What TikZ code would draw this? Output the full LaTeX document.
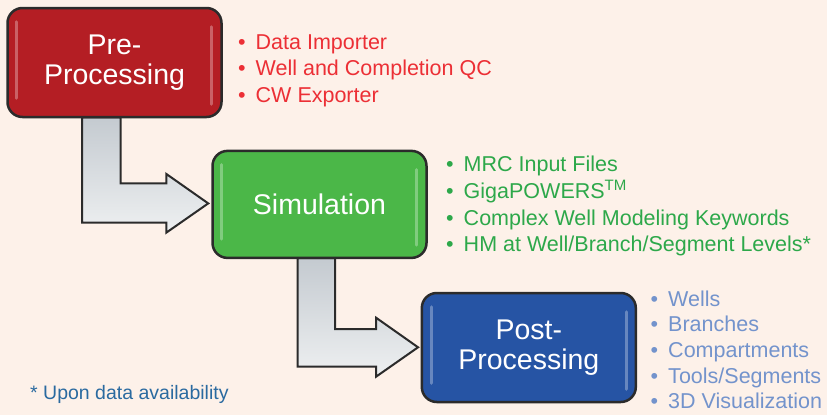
\documentclass[tikz,border=0pt]{standalone}
\usepackage{fontspec}
\setmainfont{Liberation Sans}
\usetikzlibrary{calc}
\pgfdeclarelayer{canvas}
\pgfdeclarelayer{behind}
\pgfsetlayers{canvas,behind,main}
\definecolor{bg}{HTML}{FDF1E9}
\definecolor{prered}{HTML}{B41E24}
\definecolor{simgreen}{HTML}{4BB748}
\definecolor{postblue}{HTML}{2654A4}
\definecolor{edge}{HTML}{2B2B2B}
\definecolor{txtred}{HTML}{EC2F35}
\definecolor{txtgreen}{HTML}{2DA84A}
\definecolor{txtblue}{HTML}{7393CC}
\definecolor{notecol}{HTML}{2A6AA0}
\definecolor{arrowdark}{HTML}{C4CAD0}
\definecolor{arrowlight}{HTML}{EEF0F1}
\tikzset{
  stagebox/.style={draw=edge, line width=2.5pt, rounded corners=15pt,
    minimum width=214pt, text=white, align=center,
    font=\fontsize{28.5}{30.5}\selectfont, inner sep=0pt},
  blockarrow/.style={draw=edge, line width=2pt, line join=miter,
    top color=arrowdark, bottom color=arrowlight},
  gloss/.style={line width=3pt, line cap=round, draw=white, opacity=0.3},
  listitem/.style={anchor=base west, inner sep=0pt,
    font=\fontsize{21.5}{24}\selectfont},
}
\newcommand{\bul}{\textbullet\hspace{10pt}}
\begin{document}
\begin{tikzpicture}[x=1pt, y=-1pt]
  \begin{pgfonlayer}{canvas}
    \fill[bg] (0,0) rectangle (827,415);
  \end{pgfonlayer}
  \useasboundingbox (0,0) rectangle (827,415);

  % stage boxes
  \node[stagebox, fill=prered, minimum height=109pt] (pre) at (114.5,62.5) {Pre-\\Processing};
  \node[stagebox, fill=simgreen, minimum height=107pt] (sim) at (319.5,204.4) {Simulation};
  \node[stagebox, fill=postblue, minimum height=109pt] (post) at (528.8,347.5) {Post-\\Processing};

  % block arrows (behind the boxes)
  \begin{pgfonlayer}{behind}
  \draw[blockarrow] let \p1=(pre.south), \p2=(sim.west) in
    (\x1-32.5,\y1+1) -- (\x1+6,\y1+1) -- (\x1+6,\y2+21) -- (\x2-45,\y2+21)
    -- (\x2-45,\y2+30.5) -- (\x2-3,\y2+1) -- (\x2-45,\y2-28.3)
    -- (\x2-45,\y2-18.3) -- (\x1-32.5,\y2-18.3) -- cycle;
  \draw[blockarrow] let \p1=(sim.south), \p2=(post.west) in
    (\x1-22,\y1+1) -- (\x1+15.5,\y1+1) -- (\x1+15.5,\y2+18.5) -- (\x2-44.5,\y2+18.5)
    -- (\x2-44.5,\y2+29.8) -- (\x2-2.5,\y2+0.2) -- (\x2-44.5,\y2-29.2)
    -- (\x2-44.5,\y2-19.2) -- (\x1-22,\y2-19.2) -- cycle;
  \end{pgfonlayer}

  % gloss strips
  \foreach \b in {pre,sim,post}{
    \draw[gloss] ($(\b.north west)+(10.5,15)$) -- ($(\b.south west)+(10.5,-20)$);
    \draw[gloss] ($(\b.north east)+(-11,20)$) -- ($(\b.south east)+(-11,-14)$);
  }

  % lists
  \begin{scope}[text=txtred]
    \node[listitem] (r1) at (238,49) {\bul Data Importer};
    \node[listitem] (r2) at (238,75.5) {\bul Well and Completion QC};
    \node[listitem] (r3) at (238,102) {\bul CW Exporter};
  \end{scope}
  \begin{scope}[text=txtgreen]
    \node[listitem] (g1) at (446,171.7) {\bul MRC Input Files};
    \node[listitem] (g2) at (446,198.3) {\bul GigaPOWERS\textsuperscript{TM}};
    \node[listitem] (g3) at (446,225) {\bul Complex Well Modeling Keywords};
    \node[listitem] (g4) at (446,251.7) {\bul HM at Well/Branch/Segment Levels*};
  \end{scope}
  \begin{scope}[text=txtblue]
    \node[listitem] (b1) at (650.5,306) {\bul Wells};
    \node[listitem] (b2) at (650.5,331.7) {\bul Branches};
    \node[listitem] (b3) at (650.5,357.4) {\bul Compartments};
    \node[listitem] (b4) at (650.5,383.1) {\bul Tools/Segments};
    \node[listitem] (b5) at (650.5,408.8) {\bul 3D Visualization};
  \end{scope}

  \node[anchor=base west, inner sep=0pt, text=notecol,
    font=\fontsize{19.5}{22}\selectfont] (note) at (30,399.3) {* Upon data availability};
\end{tikzpicture}
\end{document}
